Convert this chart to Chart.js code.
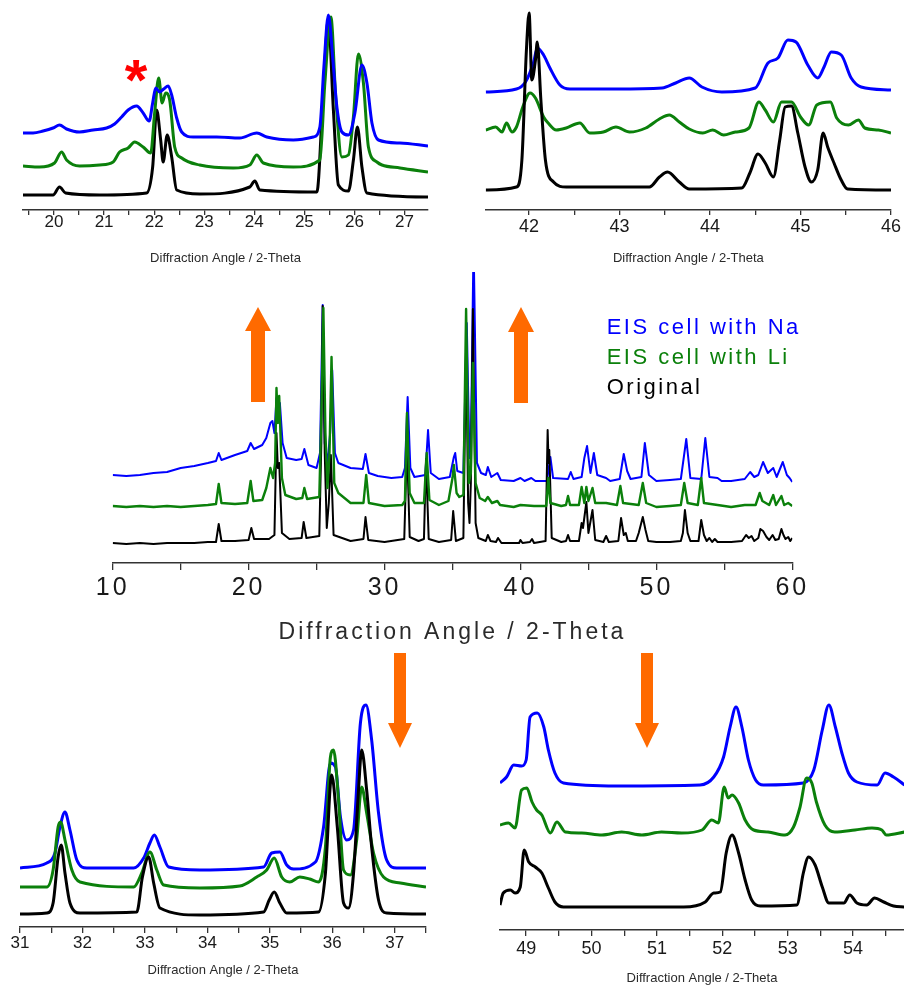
<!DOCTYPE html>
<html>
<head>
<meta charset="utf-8">
<script src="https://cdn.jsdelivr.net/npm/chart.js@4/dist/chart.umd.min.js"></script>
<style>
  html, body { margin: 0; padding: 0; background: #fff; }
  #page { position: relative; width: 904px; height: 986px; overflow: hidden; background: #fff; }
  canvas { position: absolute; }
</style>
</head>
<body>
<div id="page">
  <canvas id="c1" width="450" height="270" style="left:0;top:0"></canvas>
  <canvas id="c2" width="454" height="270" style="left:450px;top:0"></canvas>
  <canvas id="cm" width="800" height="390" style="left:60px;top:262px"></canvas>
  <canvas id="c5" width="450" height="346" style="left:0;top:640px"></canvas>
  <canvas id="c6" width="454" height="346" style="left:450px;top:640px"></canvas>
  <canvas id="ov" width="904" height="986" style="left:0;top:0;pointer-events:none"></canvas>
</div>
<script>
// ---------------- DATA (2-Theta, intensity incl. vertical offset, arbitrary units) ----------------
const seriesLabels = ["EIS cell with Na", "EIS cell with Li", "Original"];
const axisTitle = "Diffraction Angle / 2-Theta";

// Main panel 10-60
const mainNa = [[10,88],[11,87],[12,88],[13,90],[14,91],[15,95],[16,97],[17,100],[17.6,102],[17.8,110],[18.0,103],[19,108],[19.9,112],[20.15,120],[20.4,114],[21.0,118],[21.3,125],[21.6,140],[21.75,142],[21.9,130],[22.05,165],[22.15,158],[22.3,160],[22.5,120],[22.8,105],[23.5,103],[23.9,104],[24.1,114],[24.4,98],[25.0,95],[25.25,110],[25.45,258],[25.6,120],[25.8,100],[26.0,130],[26.15,193],[26.35,110],[26.6,100],[27.5,95],[28.4,94],[28.6,109],[28.85,90],[29.5,87],[30.5,85],[31.3,86],[31.5,95],[31.7,166],[31.9,95],[32.2,86],[33.0,88],[33.2,133],[33.4,90],[34,84],[34.8,86],[35.1,106],[35.2,110],[35.35,92],[35.8,90],[36.05,240],[36.25,105],[36.35,115],[36.55,321],[36.8,100],[37.1,90],[37.45,88],[37.6,96],[37.85,86],[38.3,90],[38.55,83],[39.5,82],[40,85],[40.3,82],[40.8,85],[41.1,82],[41.95,82],[42.2,106],[42.4,85],[43.5,84],[43.7,91],[43.9,84],[44.5,86],[44.7,105],[44.9,117],[45.15,90],[45.4,110],[45.65,88],[46.3,85],[46.6,82],[47.3,84],[47.6,109],[47.85,92],[48.1,84],[48.9,86],[49.15,120],[49.45,88],[50,82],[51,83],[51.8,84],[52.2,124],[52.5,85],[53.3,84],[53.6,125],[53.9,86],[54.5,85],[54.8,82],[55.5,82],[56.5,84],[56.9,91],[57.2,86],[57.5,88],[57.85,101],[58.2,90],[58.6,95],[58.85,86],[59.3,101],[59.6,88],[59.8,85],[60,81]];
const mainLi = [[10,57],[11,56],[12,57],[13,56],[14,57],[15,56],[16,57],[17,58],[17.6,59],[17.8,79],[18.0,60],[19,59],[19.9,60],[20.15,82],[20.35,62],[21.0,63],[21.3,75],[21.6,95],[21.8,85],[21.95,100],[22.05,175],[22.15,140],[22.25,167],[22.45,85],[22.7,68],[23.5,64],[23.95,65],[24.1,75],[24.3,64],[25.2,66],[25.35,150],[25.5,255],[25.65,130],[25.8,75],[25.95,110],[26.1,206],[26.3,80],[26.6,70],[27.5,60],[28.45,60],[28.65,88],[28.85,60],[30,57],[31.3,58],[31.5,62],[31.65,150],[31.85,70],[32.2,60],[32.9,60],[33.1,110],[33.3,63],[34,58],[34.7,62],[35.0,85],[35.1,98],[35.3,70],[35.5,66],[35.8,68],[36.0,254],[36.2,80],[36.35,90],[36.5,200],[36.7,80],[37.0,65],[37.4,62],[37.6,66],[37.9,60],[38.3,62],[38.5,58],[39.5,56],[40,58],[41,57],[41.9,57],[42.05,85],[42.2,60],[43,57],[43.35,58],[43.5,67],[43.65,58],[44.3,58],[44.5,76],[44.7,60],[44.85,76],[45.0,62],[45.3,75],[45.5,60],[46.3,60],[47.1,58],[47.35,77],[47.55,60],[48.7,58],[49.0,80],[49.25,60],[50,56],[51,57],[51.8,58],[52.05,80],[52.3,60],[53.05,58],[53.3,85],[53.5,60],[54.5,58],[55.5,56],[56.5,58],[57.3,58],[57.6,70],[57.8,62],[58.3,58],[58.6,68],[58.8,58],[59.2,67],[59.4,58],[59.7,60],[60,57]];
const mainOrig = [[10,20],[11,19],[12,20],[13,19],[14,20],[15,20],[16,20],[17,21],[17.6,21],[17.8,39],[18.0,22],[19,22],[20.0,23],[20.2,35],[20.4,24],[21.5,24],[21.9,28],[22.05,130],[22.15,95],[22.25,100],[22.45,30],[23,24],[23.9,25],[24.05,41],[24.25,25],[25.2,27],[25.35,120],[25.45,257],[25.6,110],[25.75,35],[25.9,60],[26.05,108],[26.25,28],[27.5,22],[28.45,24],[28.6,46],[28.8,23],[30,21],[31.45,24],[31.65,119],[31.85,26],[32.5,22],[32.9,24],[33.05,104],[33.25,24],[34,21],[34.9,23],[35.05,52],[35.25,22],[35.8,25],[36.0,219],[36.15,60],[36.25,40],[36.35,80],[36.5,254],[36.7,40],[36.9,25],[37.45,22],[37.6,28],[37.8,22],[38.2,21],[38.35,25],[38.6,20],[39.9,20],[40.0,23],[40.15,20],[40.7,21],[40.85,24],[41,20],[41.85,22],[42.0,133],[42.07,100],[42.12,113],[42.3,25],[43,21],[43.35,22],[43.5,28],[43.65,22],[44.3,22],[44.5,40],[44.6,35],[44.85,61],[45.0,30],[45.3,53],[45.5,23],[46.1,21],[46.3,27],[46.5,21],[47.2,22],[47.4,45],[47.6,28],[47.75,30],[47.9,22],[48.5,22],[48.7,30],[49.0,46],[49.2,33],[49.4,22],[50,21],[51,21],[51.8,22],[51.95,30],[52.1,53],[52.3,30],[52.5,22],[53.1,22],[53.3,43],[53.5,28],[53.7,22],[53.9,25],[54.1,21],[54.3,24],[54.5,21],[55.5,21],[56.3,22],[56.6,28],[56.8,25],[57.0,27],[57.2,22],[57.5,25],[57.65,34],[57.85,32],[58.1,26],[58.3,23],[58.55,28],[58.75,23],[59.0,24],[59.2,34],[59.35,28],[59.5,24],[59.7,26],[59.85,22],[60,25]];

// Zoom 19.4-27.5
const z1Na = [[19.38,77],[19.58,77],[19.78,79],[19.98,82],[20.11,85],[20.25,81],[20.51,78],[20.78,80],[21.05,82],[21.21,86],[21.35,93],[21.48,100],[21.65,104],[21.78,97],[21.9,89],[21.97,107],[22.03,122],[22.11,118],[22.19,121],[22.28,124],[22.35,115],[22.45,92],[22.55,78],[22.78,73],[23.25,73],[23.71,72],[24.05,77],[24.25,73],[24.78,70],[25.18,73],[25.31,83],[25.39,143],[25.48,195],[25.57,150],[25.65,103],[25.75,78],[25.88,75],[26.01,97],[26.15,145],[26.25,127],[26.35,87],[26.48,70],[26.91,67],[27.47,64]];
const z1Li = [[19.38,44],[19.71,43],[20.01,47],[20.15,58],[20.25,50],[20.51,44],[20.91,45],[21.18,48],[21.31,58],[21.48,62],[21.61,68],[21.78,63],[21.93,57],[22.01,97],[22.09,132],[22.16,107],[22.23,117],[22.31,110],[22.41,63],[22.55,52],[22.91,45],[23.58,42],[23.91,45],[24.05,55],[24.18,47],[24.78,43],[25.31,50],[25.41,127],[25.53,193],[25.63,110],[25.75,53],[25.88,55],[25.98,93],[26.08,156],[26.18,127],[26.28,63],[26.45,48],[26.55,45],[26.91,42],[27.47,38]];
const z1Orig = [[19.38,15],[19.98,15],[20.11,23],[20.23,17],[20.91,15],[21.85,17],[21.97,43],[22.05,100],[22.13,70],[22.18,48],[22.26,75],[22.35,53],[22.45,20],[22.91,16],[23.91,23],[24.01,29],[24.11,20],[25.25,18],[25.37,110],[25.48,190],[25.58,100],[25.68,25],[25.88,19],[25.98,50],[26.06,83],[26.15,43],[26.25,17],[27.47,13]];

// Zoom 41.5-46
const z2Na = [[41.52,118],[41.86,121],[41.96,128],[42.05,148],[42.09,162],[42.16,155],[42.23,142],[42.34,125],[42.45,121],[42.96,121],[43.47,122],[43.62,127],[43.77,132],[43.91,123],[44.13,118],[44.5,122],[44.64,147],[44.75,152],[44.86,170],[44.95,168],[45.08,145],[45.19,132],[45.26,143],[45.34,158],[45.45,155],[45.56,132],[45.67,123],[46,120]];
const z2Li = [[41.52,80],[41.63,83],[41.7,78],[41.75,87],[41.81,78],[41.86,83],[41.93,103],[42.01,117],[42.07,112],[42.16,93],[42.21,87],[42.3,80],[42.41,82],[42.56,87],[42.67,77],[42.82,78],[42.96,83],[43.11,78],[43.29,82],[43.44,91],[43.55,95],[43.66,88],[43.77,81],[43.92,77],[44.03,80],[44.15,75],[44.28,78],[44.43,82],[44.54,108],[44.61,100],[44.7,88],[44.79,108],[44.9,108],[45.0,93],[45.09,85],[45.18,105],[45.33,108],[45.4,92],[45.53,85],[45.64,90],[45.71,82],[45.86,80],[46,77]];
const z2Orig = [[41.52,20],[41.86,23],[41.92,50],[41.97,160],[42.0,197],[42.03,130],[42.07,150],[42.09,168],[42.13,110],[42.18,50],[42.27,28],[42.41,23],[42.96,23],[43.33,23],[43.44,33],[43.53,38],[43.66,28],[43.77,21],[44.35,22],[44.44,37],[44.53,56],[44.61,47],[44.7,33],[44.77,70],[44.83,103],[44.9,104],[44.97,77],[45.05,43],[45.12,28],[45.19,40],[45.25,77],[45.3,63],[45.37,47],[45.45,30],[45.52,21],[46,20]];

// Zoom 31-37.5
const z3Na = [[31,59],[31.43,64],[31.56,74],[31.64,100],[31.72,115],[31.8,97],[31.91,67],[32.07,59],[32.82,59],[32.98,69],[33.08,84],[33.15,92],[33.24,80],[33.38,60],[33.88,57],[34.9,60],[35.03,74],[35.16,75],[35.27,62],[35.38,58],[35.73,65],[35.86,100],[35.97,164],[36.05,160],[36.13,110],[36.23,87],[36.34,97],[36.45,204],[36.54,222],[36.63,187],[36.74,114],[36.87,67],[37.03,59],[37.5,59]];
const z3Li = [[31,40],[31.43,40],[31.53,57],[31.61,100],[31.65,105],[31.72,87],[31.83,57],[31.96,45],[32.82,40],[32.95,54],[33.08,75],[33.19,57],[33.3,42],[33.88,39],[34.52,41],[34.79,50],[34.95,57],[35.07,69],[35.19,50],[35.32,45],[35.48,50],[35.64,48],[35.78,45],[35.89,80],[35.97,170],[36.02,177],[36.1,127],[36.18,57],[36.29,52],[36.39,87],[36.47,140],[36.55,114],[36.66,74],[36.82,50],[37.09,44],[37.5,40]];
const z3Orig = [[31,13],[31.43,14],[31.53,24],[31.61,70],[31.66,82],[31.72,54],[31.8,24],[31.96,14],[32.87,15],[32.96,50],[33.06,70],[33.14,44],[33.24,19],[33.88,12],[34.9,15],[34.99,27],[35.07,35],[35.16,24],[35.27,14],[35.78,15],[35.89,54],[35.99,152],[36.08,100],[36.18,24],[36.26,19],[36.34,54],[36.42,137],[36.47,177],[36.55,137],[36.63,80],[36.74,27],[36.87,14],[37.5,13]];

// Zoom 48.6-54.8
const z4Na = [[48.6,147],[48.7,153],[48.81,165],[48.93,164],[49.0,170],[49.06,213],[49.17,217],[49.27,203],[49.34,180],[49.44,157],[49.57,147],[50.39,144],[51.66,145],[51.87,153],[52.02,173],[52.12,203],[52.21,223],[52.3,203],[52.4,170],[52.51,150],[52.63,145],[53.24,147],[53.4,160],[53.53,200],[53.63,225],[53.73,203],[53.83,177],[53.93,157],[54.06,148],[54.37,145],[54.49,157],[54.62,153],[54.79,145]];
const z4Li = [[48.6,105],[48.73,107],[48.83,102],[48.93,140],[49.01,142],[49.09,128],[49.16,120],[49.24,115],[49.37,97],[49.47,108],[49.6,98],[49.85,97],[50.16,95],[50.46,98],[50.77,95],[51.07,98],[51.38,97],[51.69,100],[51.84,110],[51.94,107],[52.03,143],[52.09,132],[52.15,135],[52.25,127],[52.35,110],[52.48,100],[52.7,98],[52.96,95],[53.09,103],[53.19,123],[53.29,152],[53.37,147],[53.44,128],[53.57,105],[53.72,98],[54.03,100],[54.29,102],[54.44,100],[54.51,95],[54.79,98]];
const z4Orig = [[48.6,25],[48.65,37],[48.76,40],[48.83,37],[48.91,43],[48.97,80],[49.04,68],[49.14,63],[49.24,57],[49.34,42],[49.44,28],[49.57,23],[51.41,23],[51.74,28],[51.87,37],[51.97,38],[52.06,77],[52.15,95],[52.25,77],[52.35,50],[52.45,30],[52.58,24],[53.14,25],[53.24,57],[53.32,73],[53.42,65],[53.53,43],[53.63,27],[53.86,27],[53.95,35],[54.06,27],[54.21,25],[54.33,32],[54.47,28],[54.62,24],[54.79,23]];

const colors = ["#0000ff", "#0b800b", "#000000"];
const FONT = "'Liberation Sans', Arial, Helvetica, sans-serif";

// ---------------- chart builder ----------------
function toXY(arr) { return arr.map(p => ({ x: p[0], y: p[1] })); }

function buildChart(id, o) {
  const sets = [o.na, o.li, o.orig];
  const datasets = sets.map((d, i) => ({
    label: seriesLabels[i],
    data: toXY(d),
    borderColor: colors[i],
    backgroundColor: colors[i],
    borderWidth: o.lw[i],
    pointRadius: 0,
    cubicInterpolationMode: o.smooth ? 'monotone' : 'default',
    tension: 0,
    borderJoinStyle: 'round',
    order: o.order[i]
  }));
  return new Chart(document.getElementById(id), {
    type: 'line',
    data: { datasets },
    options: {
      responsive: false,
      animation: false,
      devicePixelRatio: 1,
      layout: { padding: { left: o.pad[0], right: o.pad[1], top: o.pad[2], bottom: 0 } },
      plugins: { legend: { display: false }, tooltip: { enabled: false } },
      scales: {
        x: {
          type: 'linear',
          min: o.xmin, max: o.xmax,
          afterFit: (s) => { s.height = o.axisH; },
          border: { display: true, color: '#333', width: 1.5 },
          grid: { drawOnChartArea: false, drawTicks: true, tickLength: o.tickLen, color: '#333', lineWidth: 1.3 },
          ticks: {
            stepSize: o.step,
            includeBounds: false,
            autoSkip: false,
            maxRotation: 0,
            padding: o.tickPad,
            color: '#1a1a1a',
            font: { family: FONT, size: o.tickSize, lineHeight: 1 },
            callback: (v) => (Math.abs(v / o.labelEvery - Math.round(v / o.labelEvery)) < 1e-6 ? String(Math.round(v)) : '')
          },
          title: {
            display: true, text: axisTitle, color: '#2a2a2a',
            font: { family: FONT, size: o.titleSize, lineHeight: 1.2 },
            padding: { top: 0, bottom: o.titlePadB }
          }
        },
        y: { display: false, min: 0, max: o.ymax }
      }
    },
    plugins: o.plugins || []
  });
}

const lwSmall = [3, 3, 3];

// Panel 1 (top-left)
buildChart('c1', { na: z1Na, li: z1Li, orig: z1Orig, lw: lwSmall, order: [0, 1, 2], smooth: true,
  xmin: 19.38, xmax: 27.47, step: 0.5, labelEvery: 1, ymax: 205, pad: [23, 22, 5], axisH: 60,
  tickLen: 5, tickPad: -1, tickSize: 17, titleSize: 13, titlePadB: 4 });

// Panel 2 (top-right)
buildChart('c2', { na: z2Na, li: z2Li, orig: z2Orig, lw: lwSmall, order: [2, 1, 0], smooth: true,
  xmin: 41.52, xmax: 46, step: 0.5, labelEvery: 1, ymax: 205, pad: [35.7, 12.3, 5], axisH: 60,
  tickLen: 5, tickPad: 3, tickSize: 18, titleSize: 13, titlePadB: 4 });

// Main panel
const spacingPlugin = {
  id: 'spacing',
  beforeDraw(chart) { chart.ctx.letterSpacing = '3px'; },
  afterDraw(chart) {
    const ctx = chart.ctx;
    ctx.save();
    ctx.letterSpacing = '2.5px';
    ctx.font = "22px " + FONT;
    ctx.textAlign = 'left';
    ctx.textBaseline = 'middle';
    const x0 = chart.chartArea.left + 494;
    const y0 = chart.chartArea.top + 56;
    chart.data.datasets.forEach((ds, i) => {
      ctx.fillStyle = ds.borderColor;
      ctx.fillText(ds.label, x0, y0 + i * 30);
    });
    ctx.restore();
    ctx.letterSpacing = '0px';
  }
};
buildChart('cm', { na: mainNa, li: mainLi, orig: mainOrig, lw: [2, 2.4, 2], order: [2, 0, 1], smooth: false,
  xmin: 10, xmax: 60, step: 5, labelEvery: 10, ymax: 291, pad: [52.7, 67.7, 10], axisH: 89,
  tickLen: 7, tickPad: 6, tickSize: 25, titleSize: 23, titlePadB: 6, plugins: [spacingPlugin] });

// Panel 5 (bottom-left)
buildChart('c5', { na: z3Na, li: z3Li, orig: z3Orig, lw: lwSmall, order: [2, 1, 0], smooth: true,
  xmin: 31, xmax: 37.5, step: 0.5, labelEvery: 1, ymax: 237, pad: [20, 24, 50], axisH: 59,
  tickLen: 6, tickPad: 2, tickSize: 17, titleSize: 13, titlePadB: 8 });

// Panel 6 (bottom-right)
buildChart('c6', { na: z4Na, li: z4Li, orig: z4Orig, lw: lwSmall, order: [1, 0, 2], smooth: true,
  xmin: 48.6, xmax: 54.78, step: 0.5, labelEvery: 1, ymax: 240, pad: [50, 0, 50], axisH: 56,
  tickLen: 6, tickPad: 4, tickSize: 18, titleSize: 13, titlePadB: 0 });

// ---------------- overlay: arrows and asterisk ----------------
(function () {
  const ctx = document.getElementById('ov').getContext('2d');
  ctx.fillStyle = '#ff6a00';
  function upArrow(cx, tip, headBase, bottom, shaftW, headW) {
    ctx.beginPath();
    ctx.moveTo(cx, tip);
    ctx.lineTo(cx + headW / 2, headBase);
    ctx.lineTo(cx + shaftW / 2, headBase);
    ctx.lineTo(cx + shaftW / 2, bottom);
    ctx.lineTo(cx - shaftW / 2, bottom);
    ctx.lineTo(cx - shaftW / 2, headBase);
    ctx.lineTo(cx - headW / 2, headBase);
    ctx.closePath();
    ctx.fill();
  }
  function downArrow(cx, top, headBase, tip, shaftW, headW) {
    ctx.beginPath();
    ctx.moveTo(cx - shaftW / 2, top);
    ctx.lineTo(cx + shaftW / 2, top);
    ctx.lineTo(cx + shaftW / 2, headBase);
    ctx.lineTo(cx + headW / 2, headBase);
    ctx.lineTo(cx, tip);
    ctx.lineTo(cx - headW / 2, headBase);
    ctx.lineTo(cx - shaftW / 2, headBase);
    ctx.closePath();
    ctx.fill();
  }
  upArrow(258, 307, 331, 402, 14, 26);
  upArrow(521, 307, 332, 403, 14, 26);
  downArrow(400, 653, 723, 748, 12, 24);
  downArrow(647, 653, 723, 748, 12, 24);
  ctx.fillStyle = '#ff0000';
  ctx.font = "bold 58px " + FONT;
  ctx.textAlign = 'center';
  ctx.textBaseline = 'middle';
  ctx.fillText('*', 136, 84);
})();
</script>
</body>
</html>
